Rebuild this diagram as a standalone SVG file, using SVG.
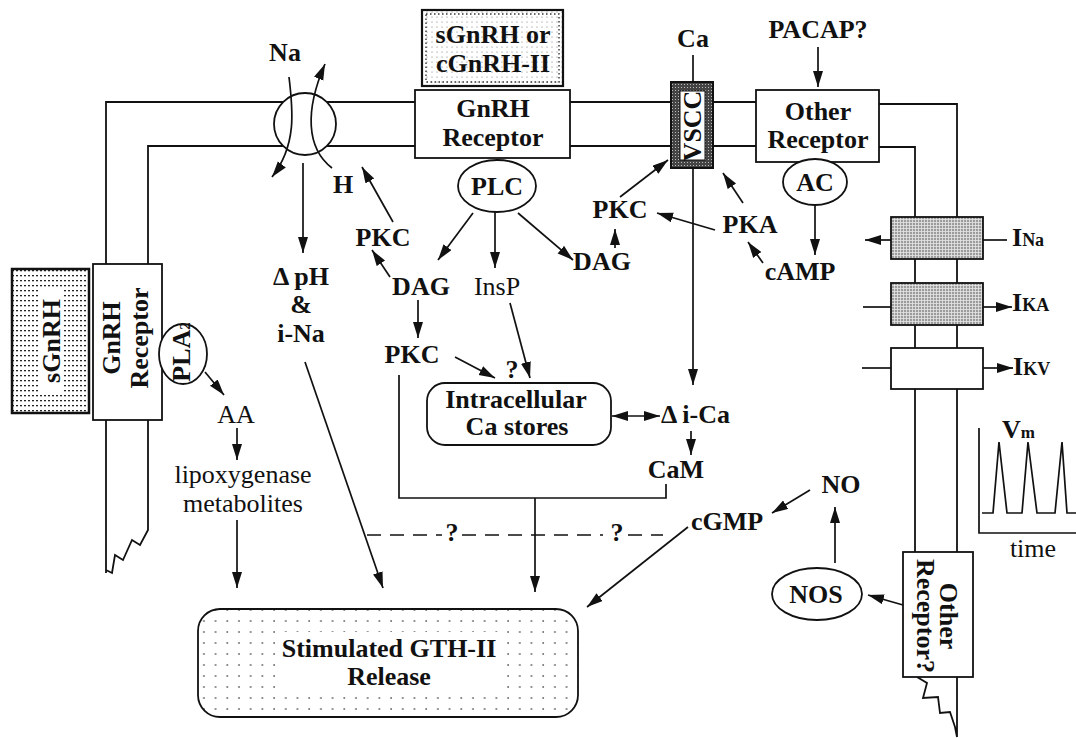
<svg xmlns="http://www.w3.org/2000/svg" width="1076" height="738" viewBox="0 0 1076 738">
<defs>
<style>
.t{font-family:"Liberation Serif","Times New Roman",serif;font-weight:bold;font-size:26px;text-anchor:middle;fill:#111}
.r{font-weight:normal}
.ln{stroke:#111;stroke-width:1.7;fill:none}
.ar{stroke:#111;stroke-width:1.7;fill:none;marker-end:url(#ah)}
.box{fill:#fff;stroke:#111;stroke-width:1.8}
.mem{stroke:#111;stroke-width:1.8;fill:none}
</style>
<marker id="ah" markerUnits="userSpaceOnUse" markerWidth="17" markerHeight="11" refX="16" refY="5" orient="auto-start-reverse">
<path d="M0,0 L16,5 L0,10 z" fill="#111"/>
</marker>
<pattern id="dense" width="4" height="5" patternUnits="userSpaceOnUse">
<rect width="4" height="5" fill="#fff"/><rect x="0" y="0" width="2" height="1.3" fill="#222"/>
</pattern>
<pattern id="fine" width="5" height="5" patternUnits="userSpaceOnUse">
<rect width="5" height="5" fill="#fff"/><circle cx="2" cy="2" r="0.6" fill="#777"/>
</pattern>
<pattern id="sparse" width="11.7" height="11" patternUnits="userSpaceOnUse">
<rect width="11.7" height="11" fill="#fff"/><circle cx="5" cy="5" r="0.9" fill="#666"/>
</pattern>
<pattern id="hatch" width="3" height="3" patternUnits="userSpaceOnUse">
<rect width="3" height="3" fill="#9c9c9c"/><rect width="3" height="0.8" fill="#e6e6e6"/><rect width="0.8" height="3" fill="#e6e6e6"/>
</pattern>
<pattern id="dark" width="3" height="3" patternUnits="userSpaceOnUse">
<rect width="3" height="3" fill="#444"/><rect width="1" height="1" fill="#bbb"/>
</pattern>
</defs>
<rect width="1076" height="738" fill="#fff"/>

<g id="membrane">
<path class="mem" d="M106,264 L106,102 L284,102"/>
<path class="mem" d="M148,264 L148,146 L286,146"/>
<path class="mem" d="M326,102 L415,102 M324,146 L415,146"/>
<path class="mem" d="M570,102 L671,102 M570,146 L671,146"/>
<path class="mem" d="M713,102 L756,102 M713,146 L756,146"/>
<path class="mem" d="M879,104 L957,104 L957,217 M879,147 L915,147 L915,217"/>
<path class="mem" d="M915,259 L915,283 M957,259 L957,283 M915,325 L915,348 M957,325 L957,348 M915,389 L915,552 M957,389 L957,552"/>
<path class="mem" d="M957,677 L957,737 M917,677 L927,683 L923,698 L938,697 L940,713 L950,712 L955,727 L957,737"/>
<path class="mem" d="M106,420 L106,573 M148,420 L148,530 L140,545 L132,540 L123,560 L115,555 L112,573 L106,570"/>
</g>

<g id="exchanger">
<circle cx="305" cy="124" r="31" class="box"/>
<text class="t" x="285" y="61" font-size="25">Na</text>
<text class="t" x="343" y="193" font-size="25">H</text>
</g>

<g id="top-ligand">
<rect x="422" y="10" width="141" height="76" fill="url(#fine)" stroke="#111" stroke-width="2.2"/>
<rect x="426" y="14" width="133" height="68" fill="none" stroke="#333" stroke-width="1.4" stroke-dasharray="1.5 2.5"/>
<text class="t" x="493" y="43">sGnRH or</text>
<text class="t" x="493" y="72">cGnRH-II</text>
</g>

<g id="gnrh-receptor-top">
<rect x="415" y="90" width="155" height="68" class="box"/>
<text class="t" x="493" y="117">GnRH</text>
<text class="t" x="493" y="146">Receptor</text>
</g>

<g id="plc">
<ellipse cx="497" cy="186" rx="39" ry="26" class="box"/>
<text class="t" x="497" y="195">PLC</text>
</g>

<g id="vscc">
<rect x="671" y="82" width="42" height="86" fill="url(#dark)" stroke="#111" stroke-width="2"/>
<rect x="680" y="91" width="25" height="69" fill="#fff" stroke="#111" stroke-width="1"/>
<text class="t" font-size="24" transform="translate(701,126) rotate(-90)">VSCC</text>
<text class="t" x="693" y="47" font-size="25">Ca</text>
</g>

<g id="pacap">
<text class="t" x="818" y="38">PACAP?</text>
</g>

<g id="other-receptor">
<rect x="756" y="90" width="123" height="72" class="box"/>
<text class="t" x="818" y="120">Other</text>
<text class="t" x="818" y="148">Receptor</text>
</g>

<g id="ac">
<ellipse cx="815" cy="182" rx="32" ry="23" class="box"/>
<text class="t" x="815" y="191">AC</text>
</g>

<g id="sgnrh-left">
<rect x="12" y="269" width="77" height="144" fill="url(#dense)" stroke="#111" stroke-width="2.5"/>
<rect x="40" y="290" width="22" height="102" fill="#fff"/>
<text class="t" font-size="28" transform="translate(60,341) rotate(-90)">sGnRH</text>
</g>

<g id="gnrh-receptor-left">
<rect x="93" y="264" width="69" height="156" class="box"/>
<text class="t" transform="translate(120,338) rotate(-90)">GnRH</text>
<text class="t" transform="translate(148,338) rotate(-90)">Receptor</text>
</g>

<g id="pla2">
<ellipse cx="183" cy="354" rx="24" ry="30" class="box"/>
<text class="t" font-size="21" transform="translate(190,352) rotate(-90)">PLA<tspan font-size="15">2</tspan></text>
</g>

<g id="labels">
<text class="t" x="383" y="246">PKC</text>
<text class="t" x="421" y="295">DAG</text>
<text class="t r" x="497" y="295">InsP</text>
<text class="t" x="602" y="270">DAG</text>
<text class="t" x="620" y="218">PKC</text>
<text class="t" x="750" y="233">PKA</text>
<text class="t" x="800" y="280">cAMP</text>
<text class="t" x="301" y="285">Δ pH</text>
<text class="t" x="301" y="313">&amp;</text>
<text class="t" x="301" y="342">i-Na</text>
<text class="t" x="412" y="363">PKC</text>
<text class="t" x="512" y="378" font-size="24">?</text>
<text class="t" x="661" y="423" style="text-anchor:start">Δ i-Ca</text>
<text class="t" x="676" y="478">CaM</text>
<text class="t r" x="236" y="423">AA</text>
<text class="t r" x="243" y="483">lipoxygenase</text>
<text class="t r" x="243" y="512">metabolites</text>
<text class="t" x="727" y="530">cGMP</text>
<text class="t" x="841" y="493">NO</text>
<text class="t" x="452" y="541" font-size="24">?</text>
<text class="t" x="617" y="541" font-size="24">?</text>
</g>

<g id="intracellular">
<rect x="427" y="383" width="184" height="62" rx="18" class="box"/>
<text class="t" x="516" y="408">Intracellular</text>
<text class="t" x="517" y="435">Ca stores</text>
</g>

<g id="release">
<rect x="198" y="609" width="380" height="108" rx="22" fill="url(#sparse)" stroke="#111" stroke-width="1.8"/>
<rect x="280" y="632" width="222" height="62" fill="#fff"/>
<text class="t" x="389" y="657">Stimulated GTH-II</text>
<text class="t" x="389" y="685">Release</text>
</g>

<g id="nos">
<ellipse cx="817" cy="594" rx="45" ry="26" class="box"/>
<text class="t" x="816" y="603">NOS</text>
</g>

<g id="other-receptor-2">
<rect x="903" y="552" width="70" height="125" class="box"/>
<text class="t" transform="translate(940,616) rotate(90)">Other</text>
<text class="t" transform="translate(917,616) rotate(90)">Receptor?</text>
</g>

<g id="channel-na">
<rect x="891" y="217" width="92" height="42" fill="url(#hatch)" stroke="#111" stroke-width="1.8"/>
<text class="t" x="1012" y="246" style="text-anchor:start" font-size="24">I<tspan font-size="18">Na</tspan></text>
</g>
<g id="channel-ka">
<rect x="891" y="283" width="92" height="42" fill="url(#hatch)" stroke="#111" stroke-width="1.8"/>
<text class="t" x="1012" y="311" style="text-anchor:start" font-size="24">I<tspan font-size="18">KA</tspan></text>
</g>
<g id="channel-kv">
<rect x="891" y="348" width="92" height="41" class="box"/>
<text class="t" x="1013" y="375" style="text-anchor:start" font-size="24">I<tspan font-size="18">KV</tspan></text>
</g>

<g id="vm-inset">
<path class="ln" d="M979,428 L979,533 L1076,533"/>
<path class="ln" stroke-width="1.5" d="M982,513 L993,513 L999,442 L1007,513 L1022,513 L1028,442 L1037,513 L1055,513 L1062,442 L1067,513 L1076,513"/>
<text class="t" x="1002" y="438" style="text-anchor:start" font-size="22">V<tspan font-size="17">m</tspan></text>
<text class="t r" x="1033" y="557" font-size="21">time</text>
</g>

<g id="connectors">
<path class="ar" d="M289,77 C293,110 297,145 272,177"/>
<path class="ar" d="M332,168 C306,148 305,110 325,64"/>
<path class="ar" d="M303,163 L303,253"/>
<path class="ar" d="M393,222 L362,167"/>
<path class="ar" d="M390,277 L372,250"/>
<path class="ar" d="M473,213 L438,260"/>
<path class="ar" d="M495,212 L495,268"/>
<path class="ar" d="M518,213 L573,260"/>
<path class="ar" d="M615,248 L615,229"/>
<path class="ar" d="M620,197 L668,160"/>
<path class="ar" d="M715,230 L657,213"/>
<path class="ar" d="M743,203 L723,173"/>
<path class="ar" d="M763,263 L748,242"/>
<path class="ar" d="M815,205 L815,255"/>
<path class="ar" d="M818,47 L818,87"/>
<path class="ln" d="M693,55 L693,82"/>
<path class="ar" d="M693,168 L693,385"/>
<path class="ar" d="M418,300 L418,338"/>
<path class="ar" d="M455,357 L495,378"/>
<path class="ar" d="M510,303 L530,378"/>
<path class="ar" style="marker-start:url(#ah)" d="M612,416 L660,416"/>
<path class="ar" d="M691,431 L691,455"/>
<path class="ln" d="M399,375 L399,498 L666,498 L666,484"/>
<path class="ar" d="M535,498 L535,592"/>
<path class="ar" d="M305,362 L383,588"/>
<path class="ln" stroke-dasharray="14 9" d="M367,535 L442,535 M462,535 L603,535 M628,535 L663,535"/>
<path class="ar" d="M205,372 L224,395"/>
<path class="ar" d="M237,428 L237,460"/>
<path class="ar" d="M237,520 L237,588"/>
<path class="ar" d="M688,527 L587,607"/>
<path class="ar" d="M810,490 L772,513"/>
<path class="ar" d="M835,563 L835,507"/>
<path class="ar" d="M903,605 L868,595"/>
<path class="ar" d="M891,240 L865,240"/>
<path class="ln" d="M983,240 L1007,240"/>
<path class="ln" d="M863,307 L891,307"/>
<path class="ar" d="M983,307 L1012,307"/>
<path class="ln" d="M862,368 L891,368"/>
<path class="ar" d="M983,368 L1013,368"/>
</g>
</svg>
